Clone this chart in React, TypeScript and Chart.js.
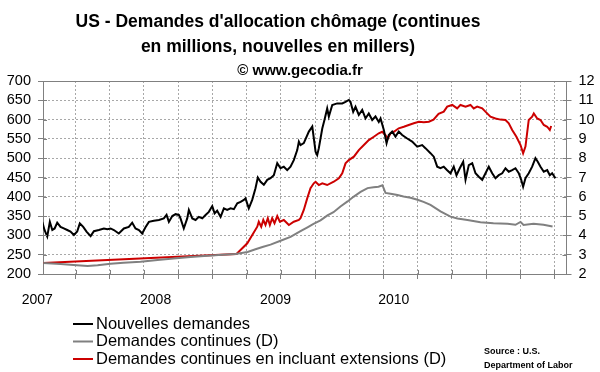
import { useEffect, useRef } from 'react';
import { Chart, registerables } from 'chart.js';

Chart.register(...registerables);

const FONT = '"Liberation Sans", Arial, Helvetica, sans-serif';

// Title texts
const titleLines = ["US - Demandes d'allocation chômage (continues", 'en millions, nouvelles en millers)'];
const subtitleText = '© www.gecodia.fr';
const sourceLines = ['Source : U.S.', 'Department of Labor'];

// X axis: decimal years
const quarterTicks = [2007.25, 2007.5, 2007.75, 2008, 2008.25, 2008.5, 2008.75, 2009, 2009.25, 2009.5, 2009.75, 2010, 2010.25, 2010.5, 2010.75];
const yearLabels = ['2007', '2008', '2009', '2010'];
const yearLabelAt = [2006.97, 2007.835, 2008.711, 2009.576];

// Nouvelles demandes (milliers) - left axis
const initialDates = [
  2007.007, 2007.023, 2007.043, 2007.062, 2007.080, 2007.097, 2007.116, 2007.140, 2007.164, 2007.189,
  2007.213, 2007.238, 2007.262, 2007.281, 2007.306, 2007.330, 2007.360, 2007.384, 2007.420, 2007.457,
  2007.482, 2007.506, 2007.530, 2007.566, 2007.603, 2007.639, 2007.664, 2007.688, 2007.713, 2007.737,
  2007.761, 2007.786, 2007.822, 2007.859, 2007.895, 2007.915, 2007.932, 2007.957, 2007.981, 2008.005,
  2008.017, 2008.041, 2008.066, 2008.078, 2008.103, 2008.127, 2008.151, 2008.176, 2008.200, 2008.224,
  2008.249, 2008.266, 2008.285, 2008.310, 2008.334, 2008.358, 2008.383, 2008.407, 2008.432, 2008.456,
  2008.480, 2008.492, 2008.516, 2008.541, 2008.565, 2008.582, 2008.602, 2008.626, 2008.651, 2008.675,
  2008.699, 2008.724, 2008.748, 2008.772, 2008.797, 2008.821, 2008.845, 2008.870, 2008.882,
  2008.894, 2008.918, 2008.955, 2008.980, 2009.004, 2009.016, 2009.028, 2009.053, 2009.069, 2009.089,
  2009.101, 2009.126, 2009.162, 2009.199, 2009.223, 2009.247, 2009.259, 2009.279, 2009.296, 2009.320,
  2009.345, 2009.369, 2009.393, 2009.418, 2009.442, 2009.466, 2009.479, 2009.503, 2009.523, 2009.539,
  2009.564, 2009.588, 2009.612, 2009.637, 2009.674, 2009.710, 2009.747, 2009.783, 2009.807, 2009.844,
  2009.868, 2009.893, 2009.917, 2009.941, 2009.966, 2009.990, 2010.014, 2010.034, 2010.058, 2010.083,
  2010.100, 2010.124, 2010.149, 2010.173, 2010.197, 2010.222, 2010.246, 2010.270, 2010.295, 2010.319,
  2010.343, 2010.368, 2010.392, 2010.416, 2010.441, 2010.465, 2010.489, 2010.507, 2010.521, 2010.538,
  2010.562, 2010.587, 2010.611, 2010.628, 2010.648, 2010.672, 2010.697, 2010.716, 2010.733, 2010.757,
];
const initialClaims = [
  335, 314, 297, 335, 314, 318, 333, 322, 318, 314,
  310, 301, 310, 331, 322, 310, 298, 311, 314, 318,
  316, 318, 314, 305, 318, 322, 333, 318, 314, 305,
  321, 335, 338, 340, 344, 353, 335, 350, 355, 353,
  344, 318, 344, 366, 344, 340, 348, 344, 353, 361,
  376, 357, 364, 348, 370, 366, 370, 368, 383, 387,
  392, 396, 370, 392, 422, 450, 439, 431, 444, 448,
  456, 487, 474, 478, 469, 478, 495, 521, 543,
  534, 539, 569, 582, 517, 508, 526, 577, 599, 629,
  608, 638, 642, 642, 646, 651, 646, 620, 633, 612,
  625, 603, 616, 599, 608, 594, 603, 573, 539, 560,
  569, 556, 569, 560, 551, 543, 530, 534, 526, 513,
  504, 478, 474, 478, 469, 461, 478, 456, 474, 491,
  444, 482, 487, 461, 452, 444, 461, 478, 461, 448,
  456, 461, 474, 465, 469, 474, 461, 444, 426, 448,
  461, 478, 500, 491, 478, 465, 469, 456, 461, 448,
];

// Demandes continues (millions) - right axis
const continuingDates = [
  2007.014, 2007.140, 2007.235, 2007.338, 2007.411, 2007.506, 2007.601, 2007.725, 2007.849, 2007.966,
  2008.090, 2008.214, 2008.324, 2008.419, 2008.507, 2008.565, 2008.616, 2008.675, 2008.748, 2008.821,
  2008.894, 2008.945, 2008.989, 2009.040, 2009.091, 2009.135, 2009.186, 2009.238, 2009.281, 2009.333,
  2009.384, 2009.428, 2009.464, 2009.493, 2009.515, 2009.552, 2009.603, 2009.647, 2009.698, 2009.749,
  2009.793, 2009.844, 2009.917, 2009.990, 2010.041, 2010.114, 2010.209, 2010.304, 2010.407, 2010.465,
  2010.502, 2010.524, 2010.597, 2010.670, 2010.736,
];
const continuingClaims = [
  2.57, 2.52, 2.47, 2.42, 2.45, 2.53, 2.58, 2.63, 2.72, 2.80,
  2.88, 2.95, 3.00, 3.04, 3.14, 3.28, 3.40, 3.52, 3.72, 3.92,
  4.22, 4.42, 4.60, 4.78, 5.04, 5.20, 5.50, 5.76, 6.00, 6.25,
  6.45, 6.50, 6.52, 6.60, 6.20, 6.16, 6.09, 6.02, 5.95, 5.85,
  5.74, 5.58, 5.25, 4.97, 4.88, 4.80, 4.68, 4.63, 4.60, 4.55,
  4.70, 4.54, 4.60, 4.55, 4.46,
];

// Demandes continues en incluant extensions (millions) - right axis
const extendedDates = [
  2007.014, 2008.426, 2008.505, 2008.578, 2008.589, 2008.607, 2008.622, 2008.638, 2008.655, 2008.670,
  2008.687, 2008.704, 2008.724, 2008.743, 2008.772, 2008.809, 2008.845, 2008.882, 2008.894, 2008.918,
  2008.943, 2008.967, 2008.991, 2009.004, 2009.028, 2009.053, 2009.089, 2009.137, 2009.174, 2009.199,
  2009.223, 2009.247, 2009.284, 2009.320, 2009.357, 2009.393, 2009.430, 2009.466, 2009.491, 2009.515,
  2009.532, 2009.552, 2009.576, 2009.612, 2009.649, 2009.685, 2009.722, 2009.759, 2009.795, 2009.832,
  2009.866, 2009.903, 2009.941, 2009.966, 2010.003, 2010.039, 2010.063, 2010.100, 2010.136, 2010.160,
  2010.185, 2010.222, 2010.258, 2010.282, 2010.319, 2010.356, 2010.392, 2010.416, 2010.441, 2010.472,
  2010.502, 2010.521, 2010.538, 2010.562, 2010.587, 2010.599, 2010.624, 2010.648, 2010.672, 2010.697,
  2010.716, 2010.726,
];
const extendedClaims = [
  2.57, 3.04, 3.59, 4.45, 4.71, 4.45, 4.80, 4.54, 4.89, 4.54,
  4.89, 4.63, 5.00, 4.71, 4.80, 4.54, 4.71, 4.80, 4.89, 5.32,
  5.92, 6.44, 6.70, 6.78, 6.61, 6.70, 6.61, 6.78, 6.96, 7.22,
  7.73, 7.90, 8.08, 8.42, 8.68, 8.94, 9.11, 9.29, 9.37, 9.20,
  9.02, 9.29, 9.37, 9.55, 9.63, 9.72, 9.81, 9.89, 9.86, 9.89,
  10.00, 10.30, 10.41, 10.67, 10.76, 10.58, 10.76, 10.67, 10.76, 10.58,
  10.67, 10.58, 10.32, 10.15, 10.06, 10.00, 9.98, 9.81, 9.46, 9.11,
  8.68, 8.25, 8.60, 9.98, 10.15, 10.32, 10.06, 9.98, 9.72, 9.63,
  9.46, 9.67,
];

const seriesLabels = ['Nouvelles demandes', 'Demandes continues (D)', 'Demandes continues en incluant extensions (D)'];
const seriesColors = ['#000000', '#808080', '#cc0000'];

const AXIS = '#808080';
const GRID = '#a8a8a8';
const TRANSPARENT = 'rgba(0,0,0,0)';

const toPoints = (xs: number[], ys: number[]) => xs.map((x, i) => ({ x, y: ys[i] }));

const decorPlugin = {
  id: 'decor',
  afterLayout(chart: any) {
    const tb = chart.titleBlock;
    if (tb) { tb.right = tb.left + 556; tb.width = 556; }
    const sb = chart.subtitleBlock;
    if (sb) { sb.right = sb.left + 551; sb.width = 551; }
  },
  afterDraw(chart: any) {
    const { ctx, chartArea: a } = chart;
    ctx.save();
    ctx.strokeStyle = AXIS;
    ctx.lineWidth = 1;
    const line = (x1: number, y1: number, x2: number, y2: number) => {
      ctx.beginPath(); ctx.moveTo(x1, y1); ctx.lineTo(x2, y2); ctx.stroke();
    };
    // top border
    line(a.left, Math.round(a.top) + 0.5, a.right, Math.round(a.top) + 0.5);
    // inner tick stubs
    const ys = chart.scales.y;
    ys.ticks.forEach((t: any) => {
      const py = Math.round(ys.getPixelForValue(t.value)) + 0.5;
      line(a.left, py, a.left + 4, py);
    });
    const yr = chart.scales.y1;
    yr.ticks.forEach((t: any) => {
      const py = Math.round(yr.getPixelForValue(t.value)) + 0.5;
      line(a.right - 4, py, a.right, py);
    });
    const xs = chart.scales.x;
    quarterTicks.forEach((v) => {
      const px = Math.round(xs.getPixelForValue(v)) + 0.5;
      line(px, a.bottom - 4, px, a.bottom);
    });
    // legend
    ctx.font = `16.5px ${FONT}`;
    ctx.textBaseline = 'middle';
    ctx.textAlign = 'left';
    chart.data.datasets.forEach((ds: any, i: number) => {
      const cy = 324 + i * 17.5;
      ctx.strokeStyle = ds.borderColor;
      ctx.lineWidth = 2;
      line(73, cy, 93, cy);
      ctx.fillStyle = '#000';
      ctx.fillText(ds.label, 96, cy);
    });
    // source
    ctx.font = `bold 9px ${FONT}`;
    ctx.fillStyle = '#000';
    sourceLines.forEach((s, i) => ctx.fillText(s, 484, 352 + i * 14));
    ctx.restore();
  },
};

export default function App() {
  const ref = useRef<HTMLCanvasElement | null>(null);
  useEffect(() => {
    if (!ref.current) return;
    document.body.style.margin = '0';
    const chart = new Chart(ref.current, {
      type: 'line',
      data: {
        datasets: [
          { label: seriesLabels[0], data: toPoints(initialDates, initialClaims), yAxisID: 'y', borderColor: seriesColors[0], borderWidth: 2, pointRadius: 0, tension: 0 },
          { label: seriesLabels[1], data: toPoints(continuingDates, continuingClaims), yAxisID: 'y1', borderColor: seriesColors[1], borderWidth: 2, pointRadius: 0, tension: 0 },
          { label: seriesLabels[2], data: toPoints(extendedDates, extendedClaims), yAxisID: 'y1', borderColor: seriesColors[2], borderWidth: 2, pointRadius: 0, tension: 0 },
        ],
      },
      options: {
        responsive: false,
        animation: false,
        layout: { padding: { left: 0, right: 0, top: 0, bottom: 58 } },
        plugins: {
          legend: { display: false },
          tooltip: { enabled: false },
          title: {
            display: true,
            text: titleLines,
            color: '#000',
            font: { family: FONT, size: 17.5, weight: 'bold', lineHeight: '25px' },
            padding: { top: 10, bottom: 2 },
          },
          subtitle: {
            display: true,
            text: subtitleText,
            color: '#000',
            font: { family: FONT, size: 15, weight: 'bold', lineHeight: '18px' },
            padding: { top: 0, bottom: 1 },
          },
        },
        scales: {
          x: {
            type: 'linear',
            min: 2007.012,
            max: 2010.838,
            afterBuildTicks: (s: any) => {
              s.ticks = [...quarterTicks, ...yearLabelAt].map((v) => ({ value: v }));
            },
            afterFit: (s: any) => { s.height = 40; },
            ticks: {
              autoSkip: false,
              maxRotation: 0,
              padding: 13,
              color: '#000',
              font: { family: FONT, size: 14 },
              callback: (v: any) => {
                const i = yearLabelAt.indexOf(Number(v));
                return i >= 0 ? yearLabels[i] : '';
              },
            },
            grid: {
              color: (c: any) => (quarterTicks.includes(c.tick?.value) ? GRID : TRANSPARENT),
              tickColor: (c: any) => (quarterTicks.includes(c.tick?.value) ? AXIS : TRANSPARENT),
              tickLength: 5,
              lineWidth: 1,
            },
            border: { color: AXIS, width: 1, dash: [2, 2] },
          },
          y: {
            position: 'left',
            min: 200,
            max: 700,
            afterFit: (s: any) => { s.width = 43; },
            ticks: { stepSize: 50, autoSkip: false, padding: 7, color: '#000', font: { family: FONT, size: 14.5 } },
            grid: { color: GRID, tickColor: AXIS, tickLength: 5, lineWidth: 1 },
            border: { color: AXIS, width: 1, dash: [2, 2] },
          },
          y1: {
            position: 'right',
            min: 2,
            max: 12,
            afterFit: (s: any) => { s.width = 33.5; },
            ticks: { stepSize: 1, autoSkip: false, padding: 7, color: '#000', font: { family: FONT, size: 14.5 } },
            grid: { drawOnChartArea: false, tickColor: AXIS, tickLength: 5, lineWidth: 1 },
            border: { color: AXIS, width: 1 },
          },
        },
      },
      plugins: [decorPlugin],
    } as any);
    return () => chart.destroy();
  }, []);
  return (
    <div style={{ position: 'fixed', left: 0, top: 0, width: 600, height: 372, background: '#fff' }}>
      <canvas ref={ref} width={600} height={372} style={{ display: 'block' }} />
    </div>
  );
}
